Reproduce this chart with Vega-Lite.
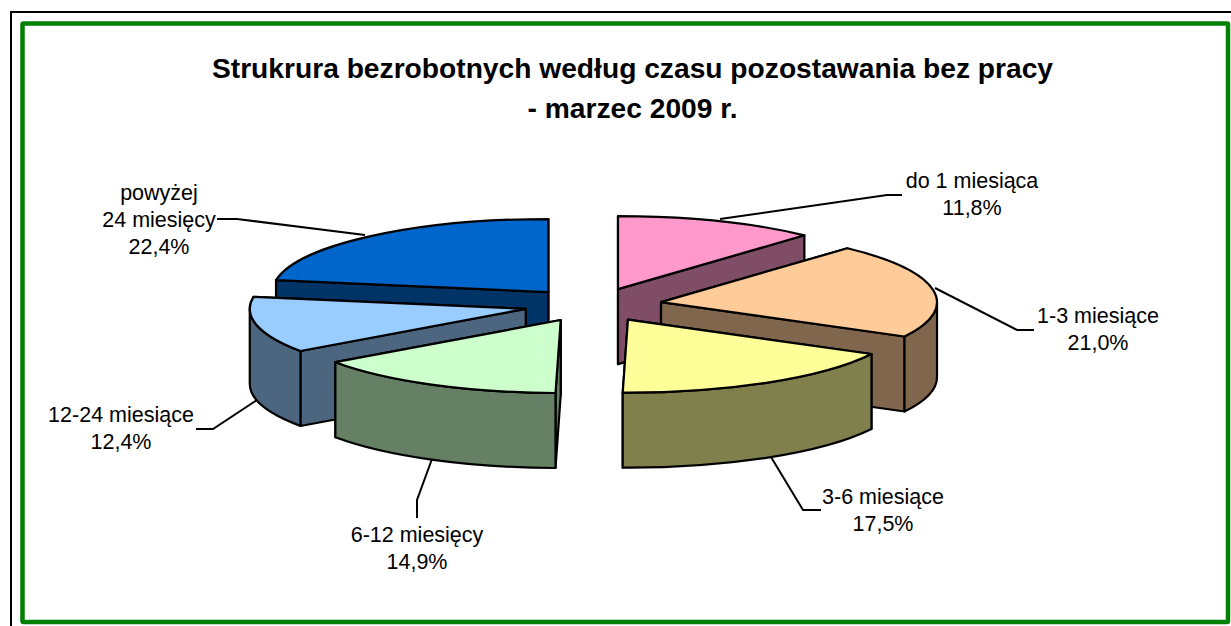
{
"$schema":"https://vega.github.io/schema/vega-lite/v6.json",
"width":1231,"height":626,"padding":0,"autosize":"none","background":"#ffffff",
"config":{"view":{"stroke":null},"font":"Liberation Sans"},
"title":{"text":["Strukrura bezrobotnych według czasu pozostawania bez pracy","- marzec 2009 r."],"font":"Liberation Sans","fontSize":28.2,"fontWeight":"bold","color":"#000000","anchor":"middle","frame":"group","baseline":"top","offset":0,"dx":17,"dy":124,"lineHeight":40},
"params":[
{"name":"cx","value":593},{"name":"cy","value":305},{"name":"pieRx","value":276},{"name":"pieRy","value":73},{"name":"explodeX","value":69},{"name":"explodeY","value":17},{"name":"depth","value":75},
{"name":"labelPos","value":{"do 1 miesiąca":[972,182],"1-3 miesiące":[1098,317],"3-6 miesiące":[883,498],"6-12 miesięcy":[417,536],"12-24 miesiące":[121,416],"powyżej 24 miesięcy":[159,194]}},
{"name":"leaderPaths","value":{"do 1 miesiąca":"M720,219L887,195L902,195","1-3 miesiące":"M935,288L1017,330L1034,330","3-6 miesiące":"M771,457L803,510L821,510","6-12 miesięcy":"M432,459L417,500L417,518","12-24 miesiące":"M257,400L213,429L196,429","powyżej 24 miesięcy":"M365,235L237,219L217,219"}}
],
"data":{"values":[
{"label":"do 1 miesiąca","value":11.8},
{"label":"1-3 miesiące","value":21.0},
{"label":"3-6 miesiące","value":17.5},
{"label":"6-12 miesięcy","value":14.9},
{"label":"12-24 miesiące","value":12.4},
{"label":"powyżej 24 miesięcy","value":22.4}
]},
"transform":[
{"stack":"value","groupby":[],"as":["s0","s1"]},
{"calculate":"datum.s0*PI/50","as":"a0"},
{"calculate":"datum.s1*PI/50","as":"a1"},
{"calculate":"(datum.a0+datum.a1)/2","as":"mid"},
{"calculate":"cx+explodeX*sin(datum.mid)","as":"ax"},
{"calculate":"cy-explodeY*cos(datum.mid)","as":"ay"},
{"calculate":"round(pieRx*sin(datum.a0)*100)/100","as":"p0x"},
{"calculate":"round(-pieRy*cos(datum.a0)*100)/100","as":"p0y"},
{"calculate":"round(pieRx*sin(datum.a1)*100)/100","as":"p1x"},
{"calculate":"round(-pieRy*cos(datum.a1)*100)/100","as":"p1y"},
{"calculate":"max(datum.a0,PI/2)","as":"b0"},
{"calculate":"min(datum.a1,3*PI/2)","as":"b1"},
{"calculate":"round(pieRx*sin(datum.b0)*100)/100","as":"q0x"},
{"calculate":"round(-pieRy*cos(datum.b0)*100)/100","as":"q0y"},
{"calculate":"round(pieRx*sin(datum.b1)*100)/100","as":"q1x"},
{"calculate":"round(-pieRy*cos(datum.b1)*100)/100","as":"q1y"},
{"calculate":"replace(datum.label,'powyżej ','powyżej\\n')+'\\n'+replace(format(datum.value,'.1f'),'.',',')+'%'","as":"txt"},
{"calculate":"labelPos[datum.label][0]","as":"tx"},
{"calculate":"labelPos[datum.label][1]","as":"ty"},
{"calculate":"leaderPaths[datum.label]","as":"leader"}
],
"layer":[
{"data":{"values":[{"frame":"outer"}]},"transform":[],
 "mark":{"type":"rect","fill":null,"stroke":"#000000","strokeWidth":2},
 "encoding":{
  "x":{"datum":11,"type":"quantitative","scale":{"domain":[0,1231],"nice":false,"zero":false},"axis":null},
  "x2":{"datum":1300},
  "y":{"datum":12,"type":"quantitative","scale":{"domain":[626,0],"nice":false,"zero":false},"axis":null},
  "y2":{"datum":700}}},
{"data":{"values":[{"frame":"inner"}]},"transform":[],
 "mark":{"type":"rect","fill":null,"stroke":"#008000","strokeWidth":4.5,"cornerRadius":1},
 "encoding":{
  "x":{"datum":22.5,"type":"quantitative","scale":{"domain":[0,1231],"nice":false,"zero":false},"axis":null},
  "x2":{"datum":1228},
  "y":{"datum":23.5,"type":"quantitative","scale":{"domain":[626,0],"nice":false,"zero":false},"axis":null},
  "y2":{"datum":622}}},
{"mark":{"type":"point","filled":false,"size":4,"stroke":"#000000","strokeWidth":2,"opacity":1,"fill":null},
 "encoding":{
  "x":{"datum":0,"type":"quantitative","scale":{"domain":[0,1231],"nice":false,"zero":false},"axis":null},
  "y":{"datum":0,"type":"quantitative","scale":{"domain":[626,0],"nice":false,"zero":false},"axis":null},
  "shape":{"field":"leader","type":"nominal","scale":null,"legend":null}}},
{"transform":[
  {"calculate":"['ws','we','o','t']","as":"part"},
  {"flatten":["part"]},
  {"calculate":"datum.part==='t'?datum.label:datum.label+' bok'","as":"face"},
  {"calculate":"round(datum.ay)*10+(datum.part==='t'?3:datum.part==='o'?2:(datum.part==='ws')===(datum.p0y<datum.p1y)?0:1)","as":"z"},
  {"calculate":"datum.part==='ws'?'M0,0L'+datum.p0x+','+datum.p0y+'L'+datum.p0x+','+(datum.p0y+depth)+'L0,'+depth+'Z':datum.part==='we'?'M0,0L'+datum.p1x+','+datum.p1y+'L'+datum.p1x+','+(datum.p1y+depth)+'L0,'+depth+'Z':datum.part==='o'?(datum.b1>datum.b0?'M'+datum.q0x+','+datum.q0y+'A'+pieRx+','+pieRy+' 0 0 1 '+datum.q1x+','+datum.q1y+'L'+datum.q1x+','+(datum.q1y+depth)+'A'+pieRx+','+pieRy+' 0 0 0 '+datum.q0x+','+(datum.q0y+depth)+'Z':'M0,0'):'M0,0L'+datum.p0x+','+datum.p0y+'A'+pieRx+','+pieRy+' 0 0 1 '+datum.p1x+','+datum.p1y+'Z'","as":"path"}
 ],
 "mark":{"type":"point","filled":true,"size":4,"stroke":"#000000","strokeWidth":2.2,"opacity":1,"strokeJoin":"round"},
 "encoding":{
  "x":{"field":"ax","type":"quantitative","scale":{"domain":[0,1231],"nice":false,"zero":false},"axis":null},
  "y":{"field":"ay","type":"quantitative","scale":{"domain":[626,0],"nice":false,"zero":false},"axis":null},
  "shape":{"field":"path","type":"nominal","scale":null,"legend":null},
  "order":{"field":"z","type":"quantitative"},
  "fill":{"field":"face","type":"nominal","legend":null,"scale":{
    "domain":["do 1 miesiąca","1-3 miesiące","3-6 miesiące","6-12 miesięcy","12-24 miesiące","powyżej 24 miesięcy","do 1 miesiąca bok","1-3 miesiące bok","3-6 miesiące bok","6-12 miesięcy bok","12-24 miesiące bok","powyżej 24 miesięcy bok"],
    "range":["#FF99CC","#FFCC99","#FFFF99","#CCFFCC","#99CCFF","#0066CC","#804D66","#80664D","#80804D","#668066","#4D6680","#003366"]}}}},
{"mark":{"type":"text","font":"Liberation Sans","fontSize":21.5,"color":"#000000","align":"center","baseline":"middle","lineHeight":27,"lineBreak":"\n"},
 "encoding":{
  "x":{"field":"tx","type":"quantitative","scale":{"domain":[0,1231],"nice":false,"zero":false},"axis":null},
  "y":{"field":"ty","type":"quantitative","scale":{"domain":[626,0],"nice":false,"zero":false},"axis":null},
  "text":{"field":"txt"}}}
]
}
